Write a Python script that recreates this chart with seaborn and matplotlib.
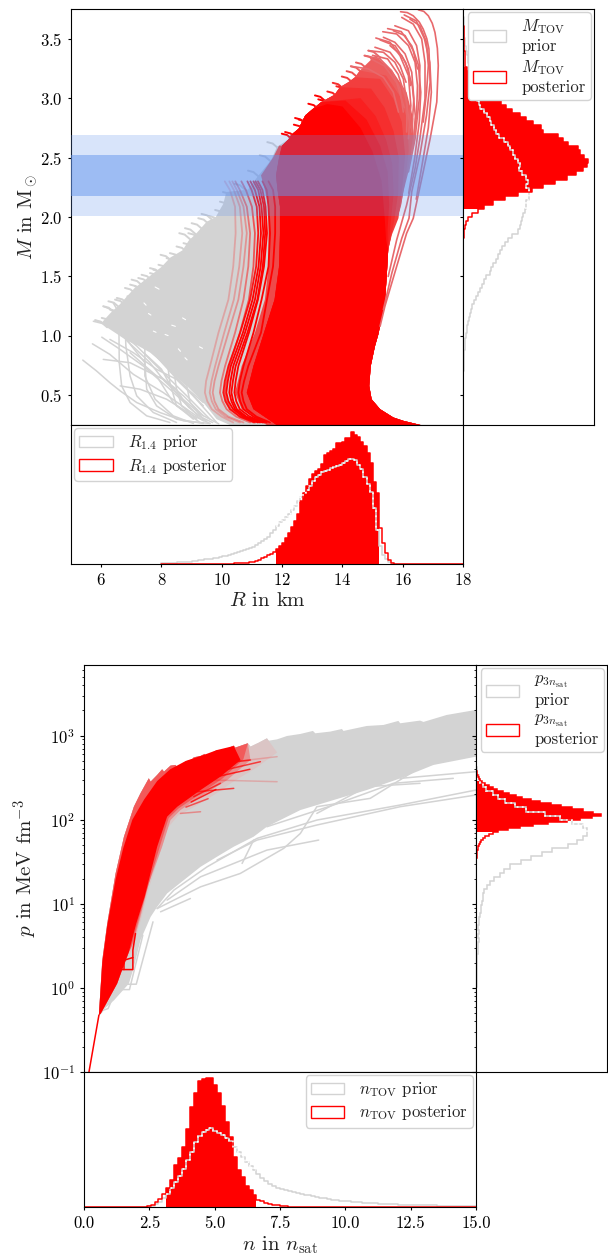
import numpy as np
import seaborn as sns
import matplotlib.pyplot as plt
from matplotlib.patches import Patch

# --- histogram heights, arbitrary units ---
R_prior = [2,2,3,3,4,5,5,6,6,7, 9,10,11,12,14,15,16,18,19,21,
           23,25,27,30,32,35,38,41,45,48, 52,57,62,68,74,82,92,103,115,125,
           132,140,150,162,175,190,200,212,222,235, 250,262,268,275,280,283,288,292,294,298,
           302,310,316,316,312,298,285,262,240,215, 168,102,55,28,14,5,2,1,0,0,
           0,0,0,0,0,0,0,0,0,0, 0,0,0,0,0,0,0,0,0,0]
R_post = [0,0,0,0,0,0,0,0,0,0, .5,.5,.5,.5,.5,.5,.5,.5,.5,.5,
          1,1,1,1.5,2,2,2.5,3,4,5, 6,8,12,17,22,26,30,35,45,54,
          62,78,92,110,128,150,190,212,235,255, 270,278,285,300,328,332,338,345,364,364,
          366,377,377,397,387,382,367,354,334,302, 247,212,107,62,32,12,4,1,0,0,
          0,0,0,0,0,0,0,0,0,0, 0,0,0,0,0,0,0,0,0,0]

# M histograms run from the top of the axis downwards
M_prior = [0,1,2,2,3,4,4,5,6,10, 12,14,16,18,20,22,25,28,30,33,
           38,42,47,52,62,72,80,85,92,100, 108,122,135,142,150,155,165,172,168,178,
           188,195,190,196,198,198,190,188,185,180, 178,175,170,165,148,135,125,118,112,105,
           98,90,85,80,70,62,58,50,45,40, 32,28,24,21,18,16,13,11,9,7,
           6,5,4,3,3,2,2,1,1,1, 1,0,0,0,0,0,0,0,0,0]
M_post = [.5,1,1,1,2,2,3,3,4,4, 5,5,6,7,12,20,28,38,50,65,
          80,95,113,130,148,172,190,208,232,240, 285,300,315,343,350,362,375,372,358,338,
          312,275,240,205,165,125,90,62,45,28, 15,8,5,3,2,1,.5,.5,.5,0,
          0,0,0,0,0,0,0,0,0,0, 0,0,0,0,0,0,0,0,0,0,
          0,0,0,0,0,0,0,0,0,0, 0,0,0,0,0,0,0,0,0,0]

n_prior = [0,0,0,0,0,0,0,0,0,0, .5,.5,.5,1,1,1,2,4,9,15,
           28,40,58,75,92,115,140,165,195,214, 225,232,236,228,222,216,208,198,180,165,
           150,135,122,112,100,88,78,70,64,58, 54,50,47,44,42,39,37,35,32,29,
           27,26,24,22,21,19,18,17,16,15, 14,13,13,12,11,10,9,9,8,8,
           7,7,7,6,6,6,5,5,5,5, 4,4,4,4,4,3,3,3,3,2]
n_post = [0,0,0,0,0,0,0,0,0,0, 0,0,0,0,0,.5,2,6,15,25,
          38,58,82,127,147,180,235,300,342,378, 384,387,387,367,342,302,255,210,150,110,
          90,62,50,35,22,17,12,9,6,5, 3,2,1,1,0,0,0,0,0,0,
          0,0,0,0,0,0,0,0,0,0, 0,0,0,0,0,0,0,0,0,0,
          0,0,0,0,0,0,0,0,0,0, 0,0,0,0,0,0,0,0,0,0]

# p histograms run from the top of the axis downwards, bins are even in log10(p)
p_prior = [0,0,0,0,0,0,0,0,0,0, 0,0,0,0,0,0,0,0,0,0,
           0,0,1,1,1,2,4,8,12,20, 30,50,65,85,115,150,205,250,285,320,
           330,330,320,300,275,225,195,165,135,100, 82,70,55,42,32,25,22,20,17,15,
           14,13,10,8,7,8,6,8,5,5, 5,4,3,4,3,2,3,2,2,1,
           1,1,1,0,0,0,0,0,0,0, 0,0,0,0,0,0,0,0,0,0]
# posterior has twice as many bins, only the part that is not empty is listed
p_post_top = 51
p_post_bottom = 101
p_post = [1,2,3,5,8,13,19,27,38,50, 63,80,98,118,138,165,192,222,252,285,
          318,348,372,345,310,270,215,170,130,95, 65,50,38,28,20,15,11,8,6,5,
          4,3,2,2,1,1,1,.5]

# --- mass-radius plane, outlines of the dense parts ---
valley_low_R = [10.15,10.87,11.19,11.64,11.83,12.24]
valley_low_M = [2.21,2.23,2.34,2.48,2.59,2.659]
valley_R = [12.3,12.55,12.66,12.77,13.03,13.3,13.74,13.92,14.2,14.42,14.58,14.92,15.1]
valley_M = [2.69,2.743,2.80,2.855,2.911,2.967,3.028,3.092,3.134,3.176,3.232,3.316,3.358]

# ends of the gray and the red curves, these make the frayed upper edge
hook_dR = [0, .18, .4]
hook_dM = [0, -.012, -.06]
tips_gray_R = [9.33,9.22,8.78,8.59,8.89,8.50,8.73,7.97,8.17,8.28,7.62,7.90,7.34,7.62,7.01,7.23,6.79,6.96,6.52,6.87,
               6.46,6.07,6.24,6.29,6.63,5.80,6.02,6.24,6.40,9.94,9.78,9.56,9.0,7.73,7.12,10.04,10.42,10.87,11.26,11.51]
tips_gray_M = [2.026,1.99,1.906,1.864,1.864,1.752,1.78,1.682,1.654,1.696,1.57,1.598,1.514,1.528,1.473,1.487,1.403,1.431,1.319,1.333,
               1.305,1.249,1.291,1.221,1.235,1.132,1.151,1.151,1.123,2.129,2.059,2.009,1.948,1.556,1.417,2.21,2.28,2.39,2.52,2.63]
tips_red_R = [11.99,12.10,12.39,12.43,12.55,12.87,13.09,13.2,13.50,13.68,13.8,13.98,14.14,14.28,14.45,14.73,14.86]
tips_red_M = [2.701,2.715,2.777,2.833,2.82,2.953,3.023,2.99,3.056,3.129,3.10,3.182,3.227,3.268,3.30,3.358,3.40]
tips_red_c = ['red','red','red','red','red','red','red','red','#F92020','#F52E2E','#F92020','#F23E3E','#EF5050','#EC5E5E','#EC5E5E','#EC5E5E','#E8696C']

gray_R = [10.15,10.05,9.8,9.5,9.15,8.9,8.7,8.3,8.0,7.7,7.4,7.1,6.85,6.6,6.3,6.05,6.2,6.5,6.85,7.2,7.62,8.28,8.84,9.39,
          9.83,10.27,12.2,12.2]
gray_M = [2.21,2.11,2.0,1.96,1.86,1.8,1.72,1.66,1.58,1.52,1.46,1.40,1.33,1.26,1.19,1.12,1.07,1.02,.96,.92,.86,.718,.579,.439,
          .299,.25,.25,2.7]

left_M = [.25,.383,.523,.746,1.026,1.305,1.584,1.864,2.087,2.227,2.35,2.5,2.6]
red_left_R = [11.82,11.05,10.83,11.05,11.4,11.75,11.9,11.93,11.93,11.85,11.8,11.9,12.0]
pink_left_R = [11.49,10.66,10.44,10.66,11.10,11.43,11.55,11.55,11.55,11.43,11.3,11.7,11.9]

right_low_R = [15.52,15.47,15.41,15.19,15.08,14.94,14.89,14.97,15.25,15.69,16.02,16.59]
right_low_M = [1.724,1.5,1.277,1.011,.913,.746,.578,.466,.383,.313,.285,.25]

# nested outlines on the right side, palest first
red_layers = [
    ('#EC5E5E', 13, [15.69,16.13,16.35,16.35,16.19,16.02,15.91,15.64], [3.218,3.05,2.827,2.60,2.38,2.21,2.06,1.891]),
    ('#EF5050', 11, [15.45,15.9,16.15,16.2,16.08,15.95,15.64], [3.19,3.02,2.82,2.56,2.3,2.1,1.87]),
    ('#F23E3E', 10, [15.25,15.69,15.97,16.08,15.97,15.86,15.64], [3.162,2.995,2.80,2.52,2.21,1.99,1.85]),
    ('#F52E2E', 8, [14.95,15.4,15.7,15.87,15.85,15.72,15.6], [3.08,2.92,2.72,2.5,2.2,1.97,1.82]),
    ('#F92020', 6, [14.6,15.1,15.45,15.65,15.7,15.6,15.55], [3.0,2.85,2.65,2.45,2.2,1.95,1.8]),
    ('#FC1010', 6, [14.1,14.8,15.25,15.5,15.55,15.5,15.5], [2.98,2.82,2.6,2.38,2.1,1.9,1.75]),
    ('red', 5, [13.5,14.0,14.6,15.0,15.3,15.4,15.45], [2.95,2.93,2.75,2.55,2.3,2.0,1.8]),
]

# single curves on the left of the red block, all on the same masses
side_M = [.271,.32,.383,.45,.523,.62,.746,1.026,1.305,1.584,1.864,2.087,2.227,2.30]
side_curves = [
    (.22, [10.38,10.0,9.67,9.52,9.44,9.48,9.61,9.89,10.22,10.38,10.46,10.44,10.27,10.1]),
    (.30, [10.72,10.22,9.89,9.76,9.70,9.76,9.89,10.22,10.55,10.72,10.83,10.72,10.50,10.35]),
    (.25, [10.6,10.12,9.8,9.67,9.6,9.66,9.78,10.08,10.4,10.58,10.68,10.6,10.4,10.25]),
    (.45, [10.94,10.48,10.16,10.02,9.94,9.99,10.11,10.44,10.72,10.88,10.94,10.83,10.6,10.45]),
    (.60, [11.05,10.62,10.3,10.17,10.1,10.15,10.25,10.6,10.9,11.05,11.1,11.0,10.8,10.65]),
    (.90, [11.10,10.6,10.27,10.12,10.05,10.1,10.22,10.61,10.94,11.14,11.21,11.16,10.99,10.85]),
    (1.0, [11.27,10.77,10.44,10.32,10.25,10.29,10.38,10.77,11.10,11.29,11.38,11.32,11.21,11.05]),
    (1.0, [11.49,11.05,10.72,10.61,10.55,10.6,10.72,11.05,11.32,11.55,11.60,11.55,11.49,11.35]),
    (1.0, [11.60,11.15,10.83,10.72,10.66,10.74,10.88,11.3,11.5,11.70,11.77,11.77,11.7,11.55]),
    (1.0, [11.4,10.93,10.6,10.48,10.42,10.46,10.55,10.9,11.2,11.4,11.5,11.45,11.35,11.2]),
    (1.0, [11.2,10.7,10.38,10.22,10.15,10.2,10.3,10.7,11.02,11.22,11.3,11.25,11.1,10.95]),
    (1.0, [11.35,10.82,10.5,10.38,10.32,10.37,10.46,10.85,11.18,11.36,11.44,11.4,11.28,11.12]),
]

# sparse gray curves at small radius
gray_curves = [
    ([5.39,5.85,6.29,6.63,7.18,7.95,8.73,9.61], [.796,.704,.606,.537,.439,.355,.285,.263]),
    ([5.71,6.29,7.07,8.06,8.84,9.39], [.933,.844,.676,.523,.383,.285]),
    ([6.07,6.96,8.06,8.73,9.39], [.802,.774,.634,.495,.327]),
    ([6.02,6.63,7.40,8.28,9.06], [.989,.886,.746,.551,.369]),
    ([5.80,6.40,7.18,8.06,8.84,9.61], [1.132,1.081,.914,.69,.495,.299]),
    ([6.07,6.46,6.59,6.60,6.68,6.96,7.51,8.28], [1.249,1.207,1.053,.774,.579,.439,.327,.271]),
    ([6.40,6.79,6.82,6.96,7.18,7.73,8.50], [1.277,1.109,.914,.662,.495,.355,.271]),
    ([6.63,7.01,7.45,7.51,7.84,8.50,9.39], [1.04,.914,.774,.551,.411,.299,.263]),
    ([7.18,7.45,7.45,7.79,8.39,9.06], [1.026,.886,.662,.467,.327,.263]),
    ([6.29,7.07,7.84,8.50,9.39], [.97,.858,.718,.634,.411]),
    ([5.74,6.85,7.62,8.62,9.39], [1.123,1.053,.886,.606,.439]),
    ([7.62,8.39,8.50,8.67,9.17], [.942,.746,.551,.411,.299]),
    ([6.96,7.84,8.39,9.06], [.858,.662,.439,.299]),
    ([8.17,8.28,8.50,9.28], [.83,.606,.411,.271]),
    ([6.57,7.29,8.17,9.06,9.83], [1.053,.984,.746,.495,.271]),
    ([6.63,7.29,8.17,9.06,9.61], [.579,.551,.467,.327,.263]),
    ([8.17,8.84,8.95,9.39], [.746,.579,.439,.299]),
    ([7.45,8.0,8.3,8.9,9.5], [.85,.72,.58,.4,.28]),
    ([6.85,7.6,8.1,8.7,9.3,9.9], [.96,.78,.62,.47,.34,.26]),
    ([7.95,8.5,8.75,9.2,9.7], [.66,.55,.45,.33,.27]),
]

# small holes between the gray curves
gaps_R = [[7.79,7.92],[8.70,8.80],[9.26,9.36],[8.34,8.46],[7.57,7.65],[8.12,8.22],[8.56,8.63],[7.42,7.49],[7.73,7.82],[8.78,8.85]]
gaps_M = [[1.411,1.393],[1.151,1.136],[.908,.895],[1.09,1.08],[1.188,1.175],[1.012,1.002],[.891,.87],[1.277,1.258],[1.04,1.03],[.816,.798]]

# pale curves fanning out at the top right
fan_curves = [
    ([16.52,16.7,16.85,16.98,17.07,17.15,17.18,17.13,16.91,16.68,16.35,16.13,15.8,15.41,15.25], [3.743,3.73,3.693,3.63,3.553,3.42,3.274,2.967,2.659,2.38,1.989,1.863,1.584,1.249,1.081]),
    ([15.93,16.15,16.35,16.55,16.68,16.8,16.87,16.91,16.79,16.57,16.30,16.21,15.97,15.64,15.36], [3.727,3.72,3.693,3.64,3.581,3.5,3.414,3.134,2.855,2.52,2.212,1.99,1.821,1.528,1.221]),
    ([15.97,16.35,16.63,16.74,16.74,16.57,16.41,16.13,15.8,15.52], [3.679,3.623,3.498,3.302,2.995,2.659,2.408,2.1,1.807,1.5]),
    ([15.74,16.19,16.46,16.57,16.55,16.41,16.19], [3.609,3.567,3.442,3.274,2.995,2.659,2.38]),
    ([15.34,15.80,16.19,16.41,16.49,16.46,16.30], [3.559,3.54,3.442,3.302,3.106,2.855,2.548]),
    ([15.36,15.74,16.08,16.30,16.37,16.30], [3.512,3.47,3.372,3.218,2.995,2.715]),
    ([15.11,15.58,15.91,16.19,16.27,16.19], [3.506,3.47,3.358,3.19,2.939,2.659]),
    ([14.86,15.36,15.74,16.02,16.15,16.13], [3.40,3.386,3.302,3.162,2.939,2.715]),
    ([14.75,15.25,15.63,15.91,16.02], [3.358,3.33,3.232,3.078,2.883]),
    ([14.28,14.86,15.36,15.69,15.86], [3.268,3.246,3.176,3.05,2.883]),
    ([16.24,16.57,16.79,16.85,16.79,16.68], [3.665,3.609,3.47,3.274,3.05,2.799]),
    ([15.69,16.08,16.35,16.49], [3.567,3.526,3.40,3.246]),
    ([15.58,15.97,16.19,16.26], [3.442,3.358,3.246,3.106]),
    ([15.08,15.58,15.91,16.11], [3.428,3.386,3.274,3.134]),
    ([15.5,15.95,16.3,16.52,16.6,16.55,16.4,16.2], [3.585,3.56,3.44,3.28,3.05,2.8,2.5,2.2]),
    ([15.25,15.75,16.1,16.32,16.42,16.35], [3.49,3.44,3.3,3.1,2.85,2.6]),
    ([15.0,15.5,15.85,16.1,16.25], [3.36,3.33,3.2,3.0,2.75]),
    ([16.05,16.45,16.72,16.9,16.95,16.85,16.65,16.45], [3.70,3.65,3.5,3.3,3.05,2.75,2.45,2.15]),
    ([14.95,15.4,15.8,16.05], [3.33,3.27,3.13,2.92]),
]

# --- pressure-density plane, outlines, p as log10 ---
top_n = [.57,.70,.89,1.21,1.53,1.91,2.16,2.48,2.55,2.8,2.99,3.06,3.31,3.5,3.57,3.88,4.14,4.2,4.46,4.61,4.69,
         5.09,5.16,5.48,5.73,5.79,6.27,6.37,6.69,7.0,7.07,7.39,7.77,8.28,8.76,8.85,9.42,9.87,9.93,10.82,11.46,
         12.03,12.1,12.86,12.99,13.88,15]
top_logp = [-.325,.329,.766,1.361,1.798,2.155,2.313,2.492,2.452,2.532,2.599,2.571,2.643,2.651,2.623,2.69,2.718,2.742,2.758,2.782,2.758,
            2.829,2.806,2.845,2.881,2.857,2.909,2.869,2.917,2.968,2.94,2.956,2.996,3.02,3.056,3.028,3.048,3.079,3.056,3.115,3.127,
            3.175,3.147,3.179,3.163,3.246,3.306]
low_n = [15,13.37,12.1,10.82,9.55,8.28,7.0,6.49,5.73,5.09,4.46,3.82,3.18,2.80,2.55,2.16,1.91,1.72,1.15,.64,.57]
low_logp = [2.75,2.651,2.492,2.353,2.234,2.115,1.917,1.798,1.679,1.56,1.44,1.282,1.123,.964,.845,.567,.25,.052,-.147,-.286,-.325]

fade_n = [7.39,6.6,5.7,5.0,4.2,3.6,3.2,2.9,2.5,2.2,1.9]
fade_logp = [2.8,2.62,2.45,2.3,2.15,2.05,1.9,1.6,1.2,.84,.5]
mid_n = [6.37,5.48,4.46,3.69,3.31,2.99,2.48,2.16,1.88]
mid_logp = [2.71,2.472,2.274,2.115,1.996,1.679,1.242,.845,.528]
near_n = [6.1,5.3,4.46,3.62,3.24,2.9,2.4,2.08,1.8]
near_logp = [2.72,2.49,2.31,2.135,2.02,1.679,1.16,.8,.48]
core_up_n = [.57,.7,.89,1.21,1.5,1.85,2.3,2.8,3.3,3.9,4.58,5.09,5.73]
core_up_logp = [-.325,.3,.74,1.29,1.66,2.0,2.24,2.46,2.6,2.70,2.77,2.829,2.877]
core_low_n = [5.99,5.22,4.46,3.57,3.18,2.8,2.32,2.0,1.72,1.43,1.27,.64]
core_low_logp = [2.71,2.512,2.353,2.155,2.036,1.679,1.083,.766,.429,.19,.052,-.306]

eos_gray = [
    ([15,12.1,8.91,6.62,4.71,3.44,2.8], [2.353,2.175,1.996,1.778,1.44,1.163,.944]),
    ([15,12.1,8.91,6.62,5.09], [2.294,2.155,1.937,1.758,1.52]),
    ([14.13,11.84,9.55,7.0], [2.492,2.433,2.175,1.917]),
    ([12.6,10.95,8.91,8.28,7.64,5.98,4.46,3.44,2.8], [2.571,2.254,2.155,1.837,1.659,1.361,1.202,1.044,.944]),
    ([8.98,7.0,5.73,4.46,3.18], [1.758,1.639,1.48,1.321,1.044]),
    ([4.07,2.93], [1.063,.905]),
    ([15,12.1], [2.571,2.492]),
    ([12.86,10.82,8.91], [2.433,2.393,2.075]),
    ([6.05,6.49], [1.48,1.758]),
    ([2.64,2.0,1.49], [.786,.044,.044]),
    ([2.25,1.74,1.36,1.21], [.627,-.02,-.02,.052]),
    ([1.17,.92,.73,.57], [-.067,-.246,-.266,-.325]),
]
eos_red = [
    (1.0, [.19,.57], [-1,-.325]),
    (1.0, [1.43,1.87,1.87,1.97], [.218,.218,.448,.647]),
    (1.0, [1.53,1.53,1.87], [.218,.329,.361]),
    (.7, [4.84,6.75], [2.552,2.69]),
    (.7, [4.71,6.37], [2.651,2.71]),
    (.7, [4.33,5.73], [2.333,2.373]),
    (.35, [3.69,4.46], [2.075,2.095]),
    (.7, [4.2,5.22], [2.274,2.433]),
    (.2, [4.97,7.39], [2.472,2.452]),
    (.2, [5.22,7.39], [2.671,2.75]),
    (.8, [4.1,5.05], [2.21,2.36]),
    (.6, [3.9,4.75], [2.15,2.25]),
    (.8, [5.2,6.35], [2.52,2.6]),
]

R_ticks = [6, 8, 10, 12, 14, 16, 18]
M_ticks = [.5, 1.0, 1.5, 2.0, 2.5, 3.0, 3.5]
n_ticks = [0, 2.5, 5, 7.5, 10, 12.5, 15]

sns.set_style("ticks")
plt.rcParams['font.family'] = ['cmr10', 'DejaVu Sans']
plt.rcParams['mathtext.fontset'] = 'cm'
plt.rcParams['axes.formatter.use_mathtext'] = True
plt.rcParams['axes.unicode_minus'] = False
plt.rcParams['axes.edgecolor'] = 'black'
plt.rcParams['xtick.color'] = 'black'
plt.rcParams['ytick.color'] = 'black'
plt.rcParams['text.color'] = '#222222'
plt.rcParams['axes.labelcolor'] = '#222222'

W, H = 608, 1256
fig = plt.figure(figsize=(W / 100, H / 100), dpi=100)


def box(x0, y0, x1, y1):
    return fig.add_axes([x0 / W, 1 - y1 / H, (x1 - x0) / W, (y1 - y0) / H])


def curve(ax, x, y, color, lw=1.2, alpha=1.0, z=2):
    sns.lineplot(x=x, y=y, sort=False, estimator=None, color=color, lw=lw, alpha=alpha, zorder=z, ax=ax)


def hist(ax, edges, prior, post, lo, hi, horizontal=False):
    edges = np.asarray(edges)
    centers = (edges[:-1] + edges[1:]) / 2
    prior = np.asarray(prior, float)
    post = np.asarray(post, float)
    inside = (centers > lo) & (centers < hi)
    first, last = np.where(inside)[0][[0, -1]]
    sub = list(edges[first:last + 2])
    all_bins = list(edges)
    key = 'y' if horizontal else 'x'
    sns.histplot(**{key: centers[inside]}, weights=post[inside], bins=sub, element='step',
                 color='red', alpha=1, lw=0, ax=ax, zorder=1.5)
    sns.histplot(**{key: centers}, weights=prior, bins=all_bins, element='step', fill=False,
                 color='lightgray', lw=1.1, ax=ax, zorder=2)
    sns.histplot(**{key: centers}, weights=post, bins=all_bins, element='step', fill=False,
                 color='red', lw=1.1, ax=ax, zorder=2.1)
    sns.histplot(**{key: centers[inside]}, weights=prior[inside], bins=sub, element='step', fill=False,
                 color='white', lw=1.1, ls=(0, (1.2, 2.2)), ax=ax, zorder=2.2)
    ax.set_xlabel('')
    ax.set_ylabel('')


def log_hist(ax, log_prior_edges, log_post_edges, prior, post, lo, hi):
    # log axis, so the steps are drawn from the edges directly
    prior_c = (log_prior_edges[:-1] + log_prior_edges[1:]) / 2
    post_c = (log_post_edges[:-1] + log_post_edges[1:]) / 2
    prior_e = 10 ** log_prior_edges
    post_e = 10 ** log_post_edges
    prior = np.asarray(prior, float)
    post = np.asarray(post, float)
    in_post = np.where((post_c > lo) & (post_c < hi))[0][[0, -1]]
    in_prior = np.where((prior_c > lo) & (prior_c < hi))[0][[0, -1]]
    ax.stairs(post[in_post[0]:in_post[1] + 1], post_e[in_post[0]:in_post[1] + 2], orientation='horizontal',
              fill=True, color='red', lw=0, zorder=1.5)
    ax.stairs(prior, prior_e, orientation='horizontal', baseline=None, color='lightgray', lw=1.1, zorder=2)
    ax.stairs(post, post_e, orientation='horizontal', baseline=None, color='red', lw=1.1, zorder=2.1)
    ax.stairs(prior[in_prior[0]:in_prior[1] + 1], prior_e[in_prior[0]:in_prior[1] + 2], orientation='horizontal',
              baseline=None, color='white', lw=1.1, ls=(0, (1.2, 2.2)), zorder=2.2)


def handles(name, sep):
    return [Patch(facecolor='white', edgecolor='lightgray', label=name + sep + 'prior'),
            Patch(facecolor='white', edgecolor='red', label=name + sep + 'posterior')]


def legend(ax, name, sep, loc):
    ax.legend(handles=handles(name, sep), loc=loc, fontsize=12, framealpha=1, edgecolor='lightgray',
              borderaxespad=.2, labelspacing=.25, borderpad=.3, handletextpad=.9).set_zorder(6)


# ---------- mass radius ----------
ax_mr = box(71, 9, 463, 425)
ax_mr.fill(gray_R + valley_low_R[1:][::-1], gray_M + valley_low_M[1:][::-1], color='lightgray', lw=0, zorder=1)
ax_mr.fill(pink_left_R + red_left_R[::-1], left_M + left_M[::-1], color='#EE4A4A', lw=0, zorder=1.3)
for g_R, g_M in gray_curves:
    curve(ax_mr, g_R, g_M, 'lightgray', lw=1.1, z=1.1)
for t_R, t_M in zip(tips_gray_R, tips_gray_M):
    curve(ax_mr, np.add(t_R, hook_dR), np.add(t_M, hook_dM), 'lightgray', lw=1.4, z=1.15)
for g_R, g_M in zip(gaps_R, gaps_M):
    curve(ax_mr, g_R, g_M, 'white', lw=.8, z=1.2)
for a, s_R in side_curves:
    curve(ax_mr, s_R, side_M, 'red', lw=1.3, alpha=a, z=1.6)
for t_R, t_M, t_c in zip(tips_red_R, tips_red_M, tips_red_c):
    curve(ax_mr, np.add(t_R, hook_dR), np.add(t_M, hook_dM), t_c, lw=1.4, z=1.75)

for color, stop, e_R, e_M in red_layers:
    ax_mr.fill(red_left_R + [12.24] + valley_R[:stop] + e_R + right_low_R,
               left_M + [2.659] + valley_M[:stop] + e_M + right_low_M, color=color, lw=0, zorder=1.8)
for f_R, f_M in fan_curves:
    curve(ax_mr, f_R, f_M, '#E8696C', lw=1.2, z=1.9)

ax_mr.axhspan(2.01, 2.69, color='cornflowerblue', alpha=.25, lw=0, zorder=5)
ax_mr.axhspan(2.18, 2.52, color='cornflowerblue', alpha=.5, lw=0, zorder=5)
ax_mr.set_xlim(5, 18)
ax_mr.set_ylim(.25, 3.75)
ax_mr.set_xticks([])
ax_mr.set_yticks(M_ticks)
ax_mr.set_ylabel(r'$M$ in M$_\odot$', fontsize=15, labelpad=0)
ax_mr.tick_params(axis='y', labelsize=12, length=2.5, width=.8)

# R_1.4 histogram
ax_r = box(71, 425, 463, 564)
hist(ax_r, np.linspace(8, 18, 101), R_prior, R_post, 11.8, 15.2)
ax_r.set_xlim(5, 18)
ax_r.set_ylim(0, 417)
ax_r.set_yticks([])
ax_r.set_xticks(R_ticks)
ax_r.tick_params(axis='x', labelsize=12, length=2.5, width=.8)
ax_r.set_xlabel(r'$R$ in km', fontsize=15, labelpad=3)
legend(ax_r, r'$R_{1.4}$', ' ', 'upper left')

# M_TOV histogram
ax_m = box(463, 9, 594, 425)
hist(ax_m, np.linspace(.25, 3.75, 101), M_prior[::-1], M_post[::-1], 2.08, 3.26, horizontal=True)
ax_m.set_ylim(.25, 3.75)
ax_m.set_xlim(0, 392)
ax_m.set_xticks([])
ax_m.set_yticks(M_ticks)
ax_m.tick_params(axis='y', labelleft=False, length=2.5, width=.8)
legend(ax_m, r'$M_\mathrm{TOV}$', '\n', 'upper right')

# ---------- pressure density ----------
ax_eos = box(84, 665, 476, 1072)
ax_eos.set_yscale('log')
ax_eos.fill(top_n + low_n, 10 ** np.array(top_logp + low_logp), color='lightgray', lw=0, zorder=1)
for g_n, g_p in eos_gray:
    curve(ax_eos, g_n, 10 ** np.array(g_p), 'lightgray', lw=1.1, z=1.1)
ax_eos.fill(top_n[:30] + fade_n, 10 ** np.array(top_logp[:30] + fade_logp), color='#DBC5C5', lw=0, zorder=1.2)
ax_eos.fill(top_n[:27] + mid_n + core_low_n[-4:], 10 ** np.array(top_logp[:27] + mid_logp + core_low_logp[-4:]),
            color='#E88F8F', lw=0, zorder=1.3)
ax_eos.fill(top_n[:27] + near_n + core_low_n[-4:], 10 ** np.array(top_logp[:27] + near_logp + core_low_logp[-4:]),
            color='#F25A5A', lw=0, zorder=1.35)
for a, e_n, e_p in eos_red:
    curve(ax_eos, e_n, 10 ** np.array(e_p), 'red', lw=1.1, alpha=a, z=1.4)
ax_eos.fill(core_up_n + core_low_n, 10 ** np.array(core_up_logp + core_low_logp), color='red', lw=0, zorder=1.5)
ax_eos.set_xlim(0, 15)
ax_eos.set_ylim(.1, 10 ** 3.84)
ax_eos.set_xticks([])
ax_eos.set_ylabel(r'$p$ in MeV fm$^{-3}$', fontsize=15, labelpad=1)
ax_eos.tick_params(axis='y', which='major', labelsize=12, length=3, width=.8)
ax_eos.tick_params(axis='y', which='minor', length=1.5, width=.6)

# n_TOV histogram
ax_n = box(84, 1072, 476, 1207)
hist(ax_n, np.linspace(0, 15, 101), n_prior, n_post, 3.2, 6.6)
ax_n.set_xlim(0, 15)
ax_n.set_ylim(0, 405)
ax_n.set_yticks([])
ax_n.set_xticks(n_ticks)
ax_n.set_xticklabels(['0.0', '2.5', '5.0', '7.5', '10.0', '12.5', '15.0'])
ax_n.tick_params(axis='x', labelsize=12, length=2.5, width=.8)
ax_n.set_xlabel(r'$n$ in $n_\mathrm{sat}$', fontsize=15, labelpad=3)
legend(ax_n, r'$n_\mathrm{TOV}$', ' ', 'upper right')

# p_3nsat histogram
ax_p = box(476, 665, 607, 1072)
ax_p.set_yscale('log')
p_post_full = [0] * p_post_top + p_post + [0] * p_post_bottom
log_hist(ax_p, np.linspace(-1, 3.84, 101), np.linspace(-1, 3.84, 201), p_prior[::-1], p_post_full[::-1], 1.861, 2.468)
ax_p.set_ylim(.1, 10 ** 3.84)
ax_p.set_xlim(0, 390)
ax_p.set_xticks([])
ax_p.tick_params(axis='y', which='major', labelleft=False, length=3, width=.8)
ax_p.tick_params(axis='y', which='minor', labelleft=False, length=1.5, width=.6)
legend(ax_p, r'$p_{3n_\mathrm{sat}}$', '\n', 'upper right')

fig.savefig('out.png', dpi=100)
